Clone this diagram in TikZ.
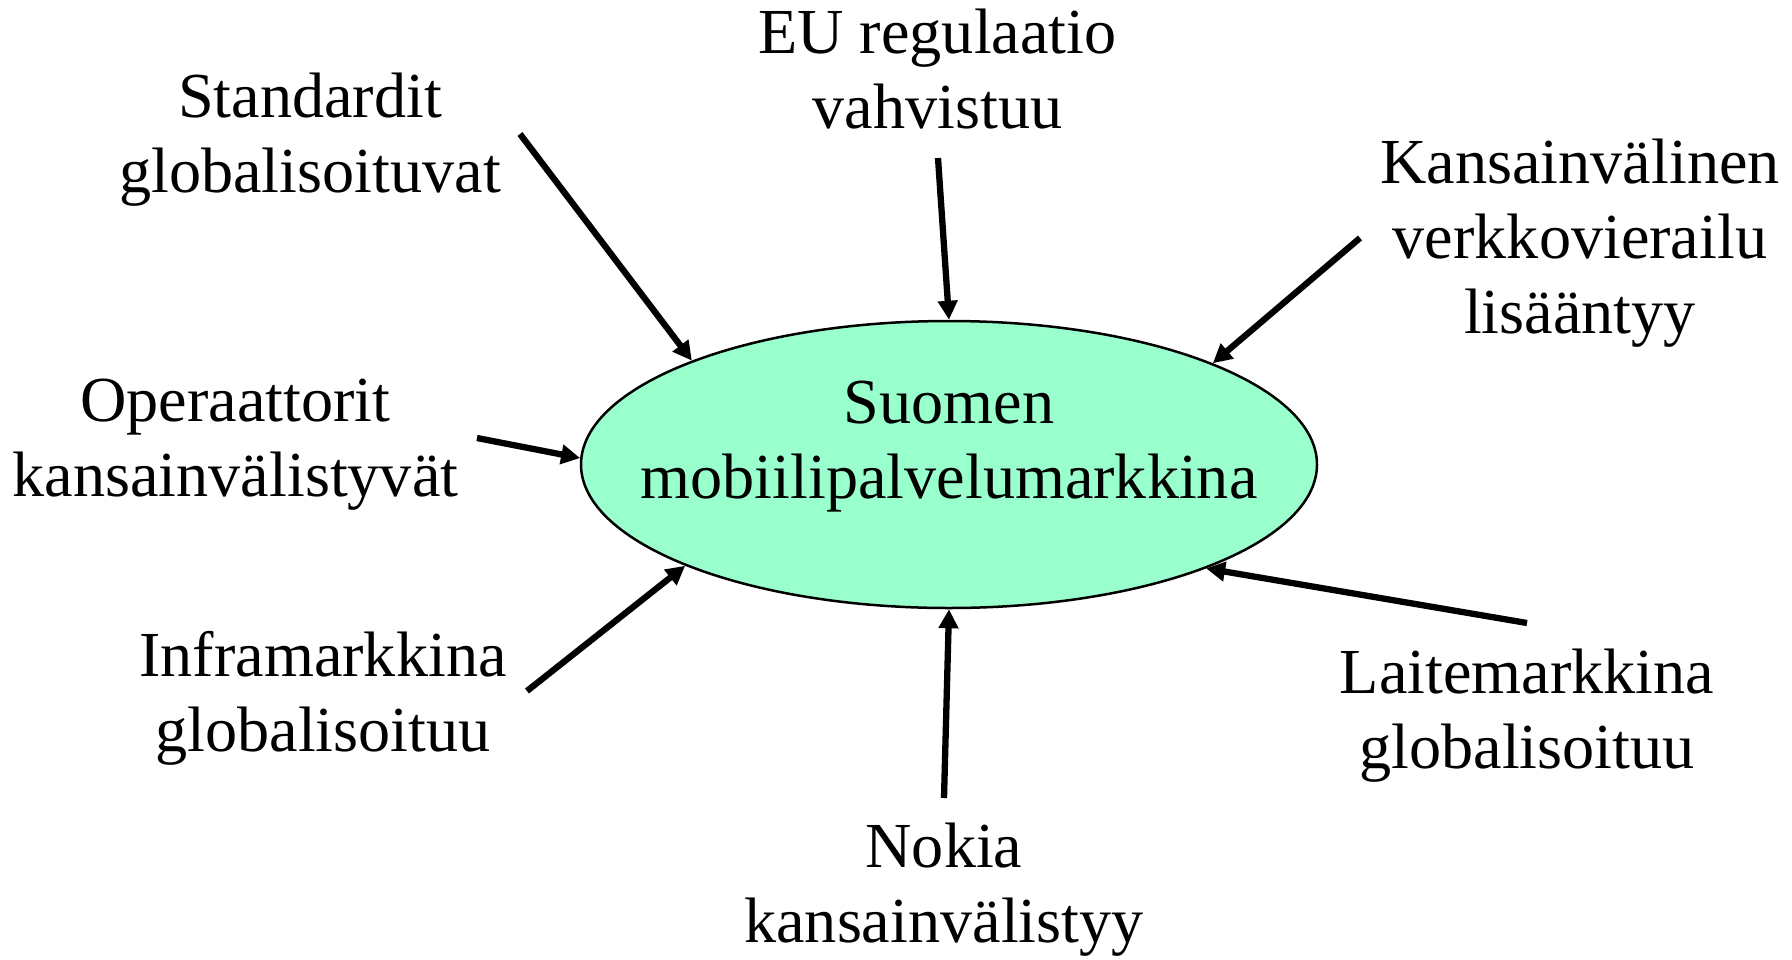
\documentclass[tikz,border=0pt]{standalone}
\usepackage{fontspec}
\setmainfont{Liberation Serif}
\usetikzlibrary{shapes.geometric,arrows.meta}
\definecolor{mint}{HTML}{99FFCC}
\tikzset{
  lbl/.style={align=center, inner sep=0pt, outer sep=0pt, font=\fontsize{64.2}{75}\selectfont},
  core/.style={ellipse, draw=black, line width=2.5pt, fill=mint, minimum width=736pt, minimum height=287pt, inner sep=0pt},
  push/.style={line width=6.3pt, -{Triangle[length=19pt,width=19pt]}}
}
\newcommand{\ls}{\strut}
\begin{document}
\begin{tikzpicture}[x=1pt,y=-1pt]
\useasboundingbox (0,0) rectangle (1792,959);
\node[core] (c) at (949,464.5) {};
\node[lbl] (ct) at (949,446) {\ls Suomen\\\ls mobiilipalvelumarkkina};

\node[lbl] (eu) at (937.5,75.5) {\ls EU regulaatio\\\ls vahvistuu};
\node[lbl] (st) at (310,140) {\ls Standardit\\\ls globalisoituvat};
\node[lbl] (ka) at (1580,243.5) {\ls Kansainvälinen\\\ls verkkovierailu\\\ls lisääntyy};
\node[lbl] (op) at (235.5,444) {\ls Operaattorit\\\ls kansainvälistyvät};
\node[lbl] (in) at (323,699) {\ls Inframarkkina\\\ls globalisoituu};
\node[lbl] (no) at (944,889.5) {\ls Nokia\\\ls kansainvälistyy};
\node[lbl] (la) at (1527,715.5) {\ls Laitemarkkina\\\ls globalisoituu};

\coordinate (s1) at (520,134);
\coordinate (s2) at (938,158);
\coordinate (s3) at (1360,238);
\coordinate (s4) at (477,438);
\coordinate (s5) at (527,691);
\coordinate (s6) at (944,798);
\coordinate (s7) at (1527,623);

\draw[push] (s1) -- (c.158.4);
\draw[push] (s2) -- (c.90.4);
\draw[push] (s3) -- (c.21.6);
\draw[push] (s4) -- (c.179.8);
\draw[push] (s5) -- (c.201.4);
\draw[push] (s6) -- (c.270.4);
\draw[push] (s7) -- (c.338.6);
\end{tikzpicture}
\end{document}
